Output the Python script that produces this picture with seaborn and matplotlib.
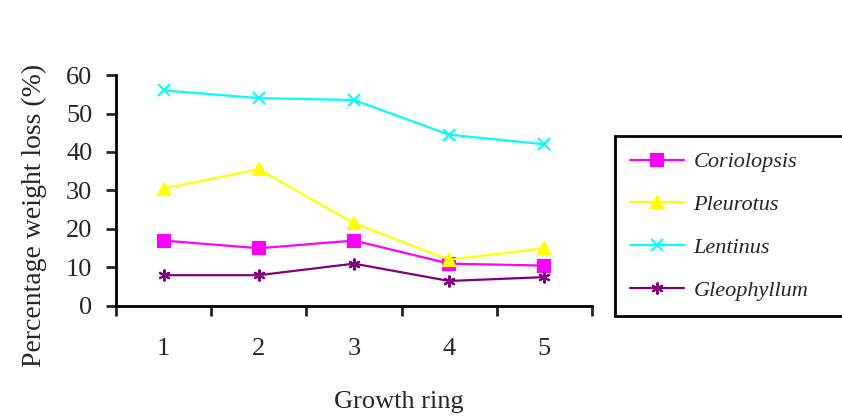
import pandas as pd
import matplotlib
matplotlib.use('Agg')
import matplotlib.pyplot as plt
import seaborn as sns
from matplotlib.lines import Line2D

# values
rings = [1, 2, 3, 4, 5]
coriolopsis = [17, 15, 17, 11, 10.5]
pleurotus = [30.5, 35.5, 21.5, 12, 15]
lentinus = [56, 54, 53.5, 44.5, 42]
gleophyllum = [8, 8, 11, 6.5, 7.5]
species = ['Coriolopsis', 'Pleurotus', 'Lentinus', 'Gleophyllum']

series = [coriolopsis, pleurotus, lentinus, gleophyllum]
df = pd.DataFrame([
    {'ring': r, 'loss': v, 'species': s}
    for s, vals in zip(species, series)
    for r, v in zip(rings, vals)
])

sns.set_theme(style='white')
plt.rcParams['font.family'] = ['Liberation Serif', 'DejaVu Serif']

palette = {'Coriolopsis': '#FF00FF', 'Pleurotus': '#FFFF00',
           'Lentinus': '#00FFFF', 'Gleophyllum': '#800080'}
markers = {'Coriolopsis': 's', 'Pleurotus': '^',
           'Lentinus': 'x', 'Gleophyllum': (6, 2, 0)}

fig = plt.figure(figsize=(8.42, 4.19), dpi=100)
ax = fig.add_axes([0.1378, 0.2697, 0.5653, 0.5513])

# one call per species (filled and line markers can't be mixed in one call)
for s in species:
    sns.lineplot(data=df[df['species'] == s], x='ring', y='loss',
                 color=palette[s], marker=markers[s], linewidth=1.6,
                 markersize=8.5, markeredgewidth=1.5, markeredgecolor=palette[s],
                 ax=ax)

ax.set_xlim(0.5, 5.5)
ax.set_ylim(0, 60)
ax.set_yticks(range(0, 61, 10))
ax.set_xticks(rings)
ax.set_xticks([0.5, 1.5, 2.5, 3.5, 4.5, 5.5], minor=True)
ax.tick_params(axis='x', which='major', length=0, pad=23, labelsize=19)
ax.tick_params(axis='x', which='minor', length=7, width=2, direction='out', bottom=True)
ax.tick_params(axis='y', which='major', length=7, width=2, direction='out', left=True,
               pad=10, labelsize=19)

for side in ['top', 'right']:
    ax.spines[side].set_visible(False)
for side in ['left', 'bottom']:
    ax.spines[side].set_color('black')
    ax.spines[side].set_linewidth(2)

ax.set_xlabel('Growth ring', fontsize=19)
ax.set_ylabel('Percentage weight loss (%)', fontsize=20)
ax.xaxis.set_label_coords(0.595, -0.37)
ax.yaxis.set_label_coords(-0.145, 0.39)

# legend
handles = [Line2D([], [], color=palette[s], marker=markers[s], markersize=8.5,
                  markeredgewidth=1.5, linewidth=1.6) for s in species]
leg = fig.legend(handles, species, loc='upper left',
                 bbox_to_anchor=(0.730, 0.255, 0.30, 0.42), mode='expand',
                 frameon=True, fancybox=False, edgecolor='black', framealpha=1,
                 prop={'family': 'Liberation Serif', 'style': 'italic', 'size': 16},
                 handlelength=2.4, handletextpad=0.45, labelspacing=1.0,
                 borderpad=0.7, borderaxespad=0)
leg.get_frame().set_linewidth(2)

fig.savefig('out.png', dpi=100)
